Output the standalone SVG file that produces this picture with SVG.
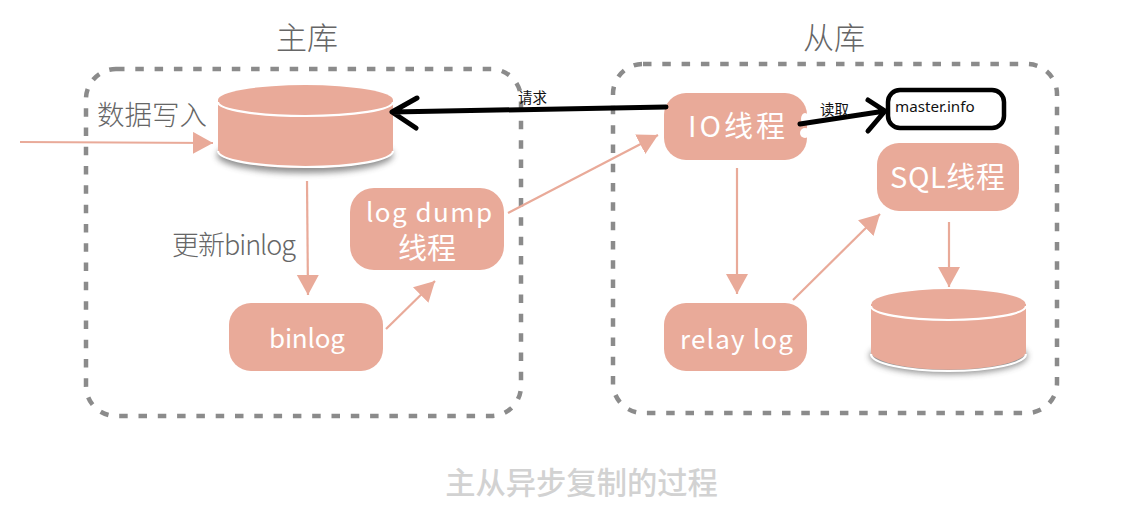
<svg xmlns="http://www.w3.org/2000/svg" width="1142" height="506" viewBox="0 0 1142 506">
<style>
.zone{fill:none;stroke:#8b8b8b;stroke-width:4.5;stroke-dasharray:8.5 10.8}
.box,.cyl{fill:#e9aa99}
.rim{fill:none;stroke:#fff;stroke-width:2.2}
.hand{font-family:"Noto Sans CJK SC","Noto Sans",sans-serif;font-weight:300;fill:#666}
.in{font-family:"Noto Sans CJK SC","Lato",sans-serif;font-weight:400;fill:#fff;font-size:26px}
.big{font-size:29px}
.small{font-family:"Noto Sans CJK SC",sans-serif;font-size:14.5px;fill:#111}
.flow{fill:none;stroke:#e9aa99;stroke-width:2.2;marker-end:url(#tri)}
.call{fill:none;stroke:#000;stroke-width:5;stroke-linecap:round;stroke-linejoin:round}
</style>
<defs>
<marker id="tri" markerUnits="userSpaceOnUse" markerWidth="22" markerHeight="24" refX="20" refY="11" orient="auto"><path d="M0 0L20 11L0 22Z" fill="#e9aa99"/></marker>
<filter id="blur" x="-20%" y="-50%" width="140%" height="200%"><feGaussianBlur stdDeviation="3"/></filter>
</defs>
<rect width="1142" height="506" fill="#fff"/>
<rect id="master-zone" class="zone" x="86" y="69" width="435" height="347" rx="30"/>
<rect id="slave-zone" class="zone" x="613" y="64" width="444" height="349" rx="30"/>
<g id="master-db">
<ellipse cx="305" cy="155" rx="88" ry="18" fill="#444" opacity=".6" filter="url(#blur)"/>
<path class="cyl" d="M218 100V150A87 18 0 0 0 393 150V100Z"/>
<ellipse class="cyl" cx="305.500" cy="100" rx="87.500" ry="15"/>
<path class="rim" d="M218 102A87.500 14 0 0 0 393 102M218 151A87.500 16 0 0 0 393 151"/>
</g>
<g id="log-dump"><rect class="box" x="350" y="188" width="154" height="82" rx="24"/><text class="in" x="366" y="222" textLength="126" lengthAdjust="spacing">log dump</text><text class="in big" x="398" y="259">线程</text></g>
<g id="binlog"><rect class="box" x="229" y="303" width="154" height="68" rx="22"/><text class="in" x="269" y="348" textLength="76" lengthAdjust="spacing">binlog</text></g>
<g id="io-thread"><rect class="box" x="664" y="93" width="143" height="67" rx="22"/><text class="in big" x="688" y="137" textLength="97" lengthAdjust="spacing">IO线程</text><ellipse cx="805" cy="119" rx="4" ry="6" fill="#fff"/><ellipse cx="805" cy="133" rx="5" ry="5" fill="#fff"/></g>
<g id="sql-thread"><rect class="box" x="877" y="143" width="142" height="68" rx="22"/><text class="in big" x="890" y="188" textLength="115" lengthAdjust="spacing">SQL线程</text></g>
<g id="relay-log"><rect class="box" x="664" y="303" width="143" height="68" rx="22"/><text class="in" x="680" y="349" textLength="113" lengthAdjust="spacing">relay log</text></g>
<g id="slave-db">
<ellipse cx="948.500" cy="356" rx="79" ry="18" fill="#444" opacity=".6" filter="url(#blur)"/>
<path class="cyl" d="M871 304V353A78 19 0 0 0 1026 353V304Z"/>
<ellipse class="cyl" cx="948.500" cy="304" rx="77" ry="15"/>
<path class="rim" d="M871 306A77.500 14 0 0 0 1026 306M871 354A77.500 17 0 0 0 1026 354"/>
</g>
<g id="master-info"><rect x="888" y="90" width="116" height="38" rx="12" fill="#fff" stroke="#000" stroke-width="4.500"/><text x="895" y="112" font-family="'Noto Sans',sans-serif" font-size="15.200" fill="#111">master.info</text></g>
<g id="connectors">
<path class="flow" d="M20 142L213 143"/>
<path class="flow" d="M307 181L308 295"/>
<path class="flow" d="M386 329L435 281"/>
<path class="flow" d="M508 213L658 135"/>
<path class="flow" d="M737 168L737 294"/>
<path class="flow" d="M793 300L880 214"/>
<path class="flow" d="M949 222L949 287"/>
<path class="call" d="M666 107L392 112M417 98L392 112L416 128"/>
<path class="call" d="M800 124L885 111M868 100L885 111L868 131"/>
</g>
<g id="labels">
<text class="hand" x="276" y="49" font-size="31">主库</text>
<text class="hand" x="803" y="49" font-size="31">从库</text>
<text class="hand" x="97" y="125" font-size="27.500">数据写入</text>
<text class="hand" x="172" y="255" font-size="27" textLength="124" lengthAdjust="spacing">更新binlog</text>
<text class="small" x="518" y="103">请求</text>
<text class="small" x="820" y="115">读取</text>
<text x="581.500" y="494" text-anchor="middle" font-family="'Noto Sans CJK SC',sans-serif" font-size="30.300" font-weight="500" fill="#d2d2d2">主从异步复制的过程</text>
</g>
</svg>
